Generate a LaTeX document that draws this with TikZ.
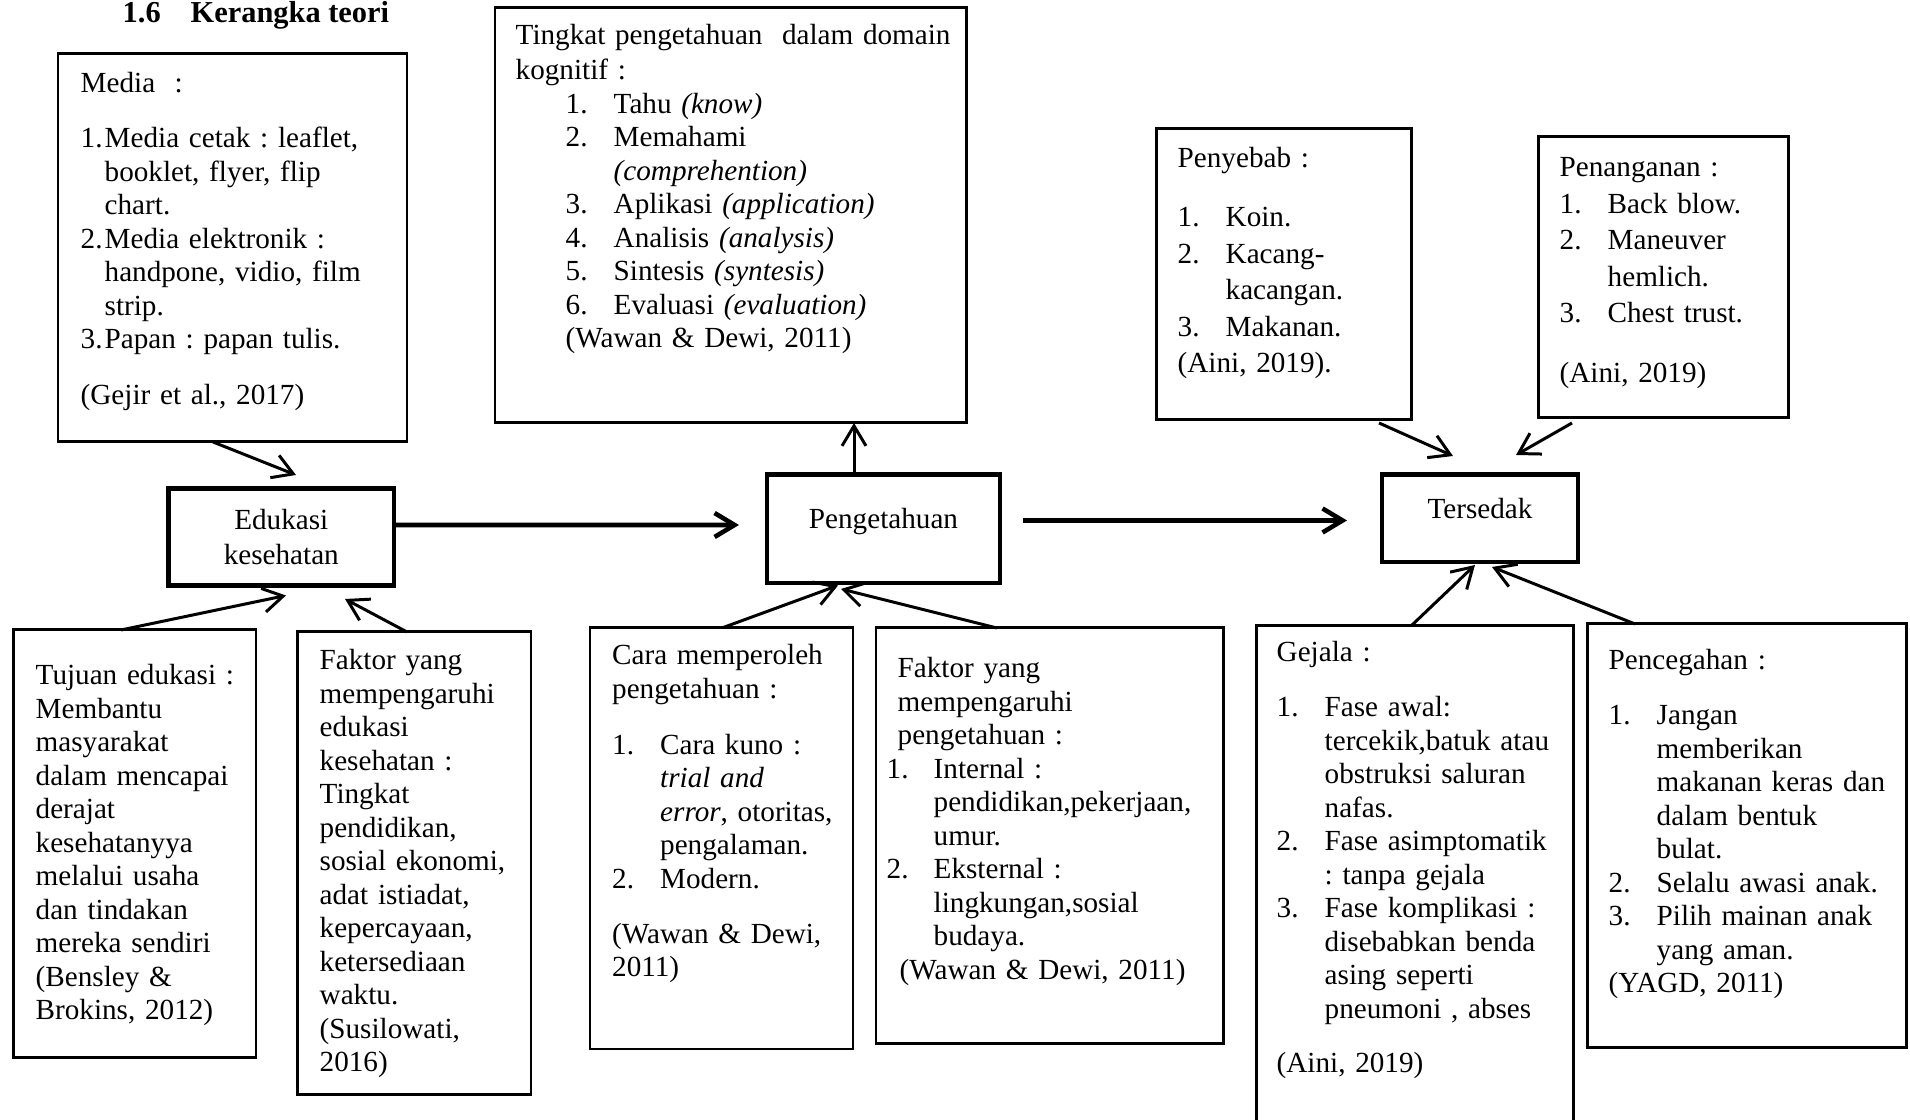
\documentclass[tikz,border=0pt]{standalone}
\usepackage{fontspec}
\setmainfont{Liberation Serif}
\usetikzlibrary{arrows.meta}
\newcommand{\bodyfnt}{\fontsize{8.3pt}{9.53pt}\selectfont\frenchspacing}
\newcommand{\loosefnt}{\fontsize{8.3pt}{10.38pt}\selectfont\frenchspacing}
\newcommand{\itemno}[2][.48cm]{\makebox[#1][l]{#2}}
\newcommand{\itemgap}[1][.48cm]{\hspace*{#1}}
\begin{document}
\begin{tikzpicture} [scale = 1,
  box/.style = {draw, line width=.85pt, inner sep=0pt, outer sep=0pt, anchor=north west},
  mainbox/.style = {draw, line width=1.25pt, inner sep=0pt, outer sep=0pt, anchor=base, align=center, font=\bodyfnt},
  txt/.style = {anchor=base west, align=left, text width=6cm, inner sep=0pt, font=\bodyfnt},
  arr/.style = {-{Straight Barb[length=2mm,width=2.4mm]}, line width=.85pt},
  mainarr/.style = {arr, line width=1.3pt}]
\path[fill=white, use as bounding box] (0,0) rectangle (19.10,11.20);
\node[anchor=base west, inner sep=0pt, font=\fontsize{8.65pt}{10pt}\selectfont\bfseries] (title) at (1.22, 10.975){1.6\hspace*{.30cm}Kerangka teori};
\node[box, minimum width=3.49cm, minimum height=3.88cm] (media) at (0.58, 10.66){};
\node[box, minimum width=4.71cm, minimum height=4.15cm] (tingkat) at (4.95, 11.12){};
\node[box, minimum width=2.55cm, minimum height=2.91cm] (penyebab) at (11.56, 9.91){};
\node[box, minimum width=2.50cm, minimum height=2.81cm] (penanganan) at (15.38, 9.83){};
\node[box, minimum width=2.424cm, minimum height=4.28cm] (tujuan) at (0.136, 4.90){};
\node[box, minimum width=2.335cm, minimum height=4.63cm] (faktoredu) at (2.975, 4.88){};
\node[box, minimum width=2.63cm, minimum height=4.214cm] (cara) at (5.90, 4.924){};
\node[box, minimum width=3.47cm, minimum height=4.16cm] (faktorpeng) at (8.76, 4.92){};
\node[box, minimum width=3.17cm, minimum height=5.10cm] (gejala) at (12.56, 4.94){};
\node[box, minimum width=3.19cm, minimum height=4.24cm] (pencegahan) at (15.87, 4.96){};
\node[mainbox, text width=2.254cm, text height=.409cm, text depth=.559cm] (edukasi) at (2.813, 5.905){Edukasi\\[.02cm]kesehatan};
\node[mainbox, text width=2.33cm, text height=.545cm, text depth=.54cm] (pengetahuan) at (8.835, 5.91){Pengetahuan};
\node[mainbox, text width=1.96cm, text height=.443cm, text depth=.43cm] (tersedak) at (14.80, 6.01){Tersedak};
\node[txt] (mediatxt) at (0.80, 10.27){Media~ :\\[.215cm]
  \itemno[.24cm]{1.}Media cetak : leaflet,\\
  \itemgap[.24cm]booklet, flyer, flip\\
  \itemgap[.24cm]chart.\\
  \itemno[.24cm]{2.}Media elektronik :\\
  \itemgap[.24cm]handpone, vidio, film\\
  \itemgap[.24cm]strip.\\
  \itemno[.24cm]{3.}Papan : papan tulis.\\[.225cm]
  (Gejir et al., 2017)};
\node[txt] (tingkattxt) at (5.15, 10.75){Tingkat pengetahuan~ dalam domain\\[.015cm]
  kognitif :\\
  \hspace*{.5cm}\itemno{1.}Tahu \textit{(know)}\\
  \hspace*{.5cm}\itemno{2.}Memahami\\
  \hspace*{.98cm}\textit{(comprehention)}\\
  \hspace*{.5cm}\itemno{3.}Aplikasi \textit{(application)}\\
  \hspace*{.5cm}\itemno{4.}Analisis \textit{(analysis)}\\
  \hspace*{.5cm}\itemno{5.}Sintesis \textit{(syntesis)}\\
  \hspace*{.5cm}\itemno{6.}Evaluasi \textit{(evaluation)}\\
  \hspace*{.5cm}(Wawan \& Dewi, 2011)};
\node[txt, font=\loosefnt] (penyebabtxt) at (11.77, 9.52){Penyebab :\\[.225cm]
  \itemno{1.}Koin.\\
  \itemno{2.}Kacang-\\
  \itemgap kacangan.\\
  \itemno{3.}Makanan.\\
  (Aini, 2019).};
\node[txt, font=\loosefnt] (penanganantxt) at (15.59, 9.43){Penanganan :\\
  \itemno{1.}Back blow.\\
  \itemno{2.}Maneuver\\
  \itemgap hemlich.\\
  \itemno{3.}Chest trust.\\[.235cm]
  (Aini, 2019)};
\node[txt] (tujuantxt) at (0.35, 4.35){Tujuan edukasi :\\
  Membantu\\
  masyarakat\\
  dalam mencapai\\
  derajat\\
  kesehatanyya\\
  melalui usaha\\
  dan tindakan\\
  mereka sendiri\\
  (Bensley \&\\
  Brokins, 2012)};
\node[txt] (faktoredutxt) at (3.19, 4.50){Faktor yang\\
  mempengaruhi\\
  edukasi\\
  kesehatan :\\
  Tingkat\\
  pendidikan,\\
  sosial ekonomi,\\
  adat istiadat,\\
  kepercayaan,\\
  ketersediaan\\
  waktu.\\
  (Susilowati,\\
  2016)};
\node[txt] (caratxt) at (6.115, 4.55){Cara memperoleh\\
  pengetahuan :\\[.225cm]
  \itemno{1.}Cara kuno :\\
  \itemgap\textit{trial and}\\
  \itemgap\textit{error}, otoritas,\\
  \itemgap pengalaman.\\
  \itemno{2.}Modern.\\[.215cm]
  (Wawan \& Dewi,\\
  2011)};
\node[txt] (faktorpengtxt) at (8.86, 4.42){\hspace*{.11cm}Faktor yang\\
  \hspace*{.11cm}mempengaruhi\\
  \hspace*{.11cm}pengetahuan :\\
  \itemno[.47cm]{1.}Internal :\\
  \itemgap[.47cm]pendidikan,pekerjaan,\\
  \itemgap[.47cm]umur.\\
  \itemno[.47cm]{2.}Eksternal :\\
  \itemgap[.47cm]lingkungan,sosial\\
  \itemgap[.47cm]budaya.\\
  \hspace*{.13cm}(Wawan \& Dewi, 2011)};
\node[txt] (gejalatxt) at (12.76, 4.58){Gejala :\\[.213cm]
  \itemno{1.}Fase awal:\\
  \itemgap tercekik,batuk atau\\
  \itemgap obstruksi saluran\\
  \itemgap nafas.\\
  \itemno{2.}Fase asimptomatik\\
  \itemgap : tanpa gejala\\
  \itemno{3.}Fase komplikasi :\\
  \itemgap disebabkan benda\\
  \itemgap asing seperti\\
  \itemgap pneumoni , abses\\[.203cm]
  (Aini, 2019)};
\node[txt] (pencegahantxt) at (16.08, 4.50){Pencegahan :\\[.214cm]
  \itemno{1.}Jangan\\
  \itemgap memberikan\\
  \itemgap makanan keras dan\\
  \itemgap dalam bentuk\\
  \itemgap bulat.\\
  \itemno{2.}Selalu awasi anak.\\
  \itemno{3.}Pilih mainan anak\\
  \itemgap yang aman.\\
  (YAGD, 2011)};
\coordinate (upline) at ([xshift=-.295cm]pengetahuan.north);
\draw[arr] ([xshift=-.195cm]media.south) -- ([shift={(.147cm,.136cm)}]edukasi.north);
\draw[arr] ([xshift=-.138cm]tujuan.north) -- ([shift={(.047cm,-.101cm)}]edukasi.south);
\draw[arr] ([xshift=-.0725cm]faktoredu.north) -- ([shift={(.637cm,-.136cm)}]edukasi.south);
\draw[mainarr] ([yshift=.12cm]edukasi.east) -- ([shift={(-.28cm,.0375cm)}]pengetahuan.west);
\draw[mainarr] ([shift={(.23cm,.0825cm)}]pengetahuan.east) -- ([shift={(-.35cm,-.0215cm)}]tersedak.west);
\draw[arr] (upline) -- (upline |- tingkat.south);
\draw[arr] ([xshift=.015cm]cara.north) -- ([shift={(-.455cm,-.025cm)}]pengetahuan.south);
\draw[arr] ([xshift=-.525cm]faktorpeng.north) -- ([shift={(-.425cm,-.06cm)}]pengetahuan.south);
\draw[arr] ([shift={(.955cm,-.03cm)}]penyebab.south) -- ([shift={(-.27cm,.187cm)}]tersedak.north);
\draw[arr] ([shift={(-.91cm,-.05cm)}]penanganan.south) -- ([shift={(.36cm,.197cm)}]tersedak.north);
\draw[arr] ([xshift=-.035cm]gejala.north) -- ([shift={(-.05cm,-.03cm)}]tersedak.south);
\draw[arr] ([xshift=-1.115cm]pencegahan.north) -- ([shift={(.12cm,-.05cm)}]tersedak.south);
\end{tikzpicture}
\end{document}
